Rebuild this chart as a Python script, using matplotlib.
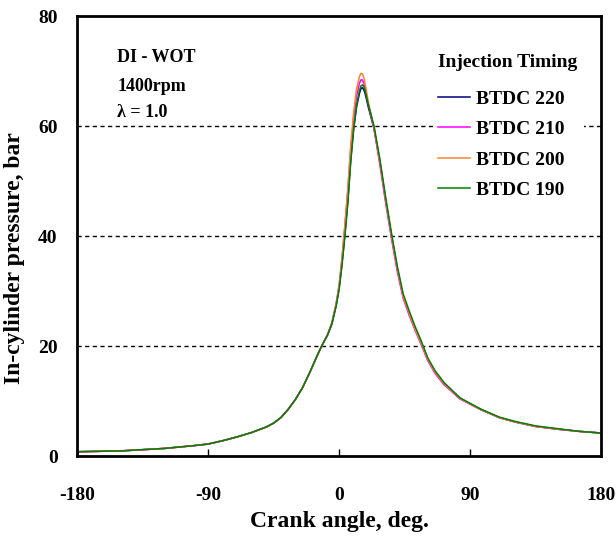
import numpy as np
import matplotlib
matplotlib.use("Agg")
import matplotlib.pyplot as plt

plt.rcParams['font.family'] = ['Liberation Serif', 'DejaVu Serif']
plt.rcParams['axes.unicode_minus'] = False

# crank angle grid, deg
angle = [-180, -150, -120, -100, -90, -80, -70, -60, -50, -45, -40, -35, -30, -25,
         -20, -15, -12, -8, -5, -2, 0, 2, 4, 6, 8, 10, 12, 14, 15, 16, 17, 18, 20,
         22, 24, 28, 32, 36, 40, 44, 48, 52, 56, 61, 66, 72, 83, 97, 110, 121, 135,
         150, 165, 180]

# in-cylinder pressure, bar
p_220 = [0.8, 0.95, 1.4, 1.9, 2.2, 2.8, 3.5, 4.3, 5.3, 6.0, 7.0, 8.5, 10.3, 12.5,
         15.3, 18.3, 20.0, 22.0, 24.0, 27.5, 30.5, 35.0, 40.5, 46.5, 54.0, 59.5, 63.5,
         66.0, 66.8, 67.0, 66.6, 65.8, 63.5, 61.5, 59.5, 53.5, 46.5, 40.0, 34.0, 29.0,
         26.0, 23.3, 20.8, 17.5, 15.2, 13.2, 10.5, 8.5, 7.0, 6.2, 5.4, 4.9, 4.5, 4.2]
p_210 = [0.8, 0.95, 1.4, 1.9, 2.2, 2.8, 3.5, 4.3, 5.3, 6.0, 7.0, 8.5, 10.3, 12.5,
         15.3, 18.3, 20.0, 22.0, 24.2, 27.8, 31.0, 36.0, 42.0, 48.5, 56.0, 61.5, 65.5,
         67.8, 68.4, 68.4, 67.8, 66.8, 64.0, 61.8, 59.5, 53.0, 46.0, 39.5, 33.5, 28.7,
         25.7, 23.0, 20.5, 17.3, 15.0, 13.0, 10.4, 8.5, 7.0, 6.2, 5.4, 4.9, 4.5, 4.2]
p_200 = [0.8, 0.95, 1.4, 1.9, 2.2, 2.8, 3.5, 4.3, 5.3, 6.0, 7.0, 8.5, 10.3, 12.5,
         15.3, 18.3, 20.0, 22.0, 24.2, 27.8, 31.0, 36.0, 42.0, 48.5, 56.5, 62.5, 66.8,
         69.0, 69.6, 69.5, 68.8, 67.5, 64.5, 62.0, 59.8, 53.5, 46.5, 40.0, 34.0, 29.0,
         26.0, 23.2, 20.7, 17.5, 15.2, 13.2, 10.5, 8.5, 7.0, 6.2, 5.4, 4.9, 4.5, 4.2]
p_190 = [0.8, 0.95, 1.4, 1.9, 2.2, 2.8, 3.5, 4.3, 5.3, 6.0, 7.0, 8.5, 10.3, 12.5,
         15.3, 18.3, 20.0, 22.0, 24.0, 27.3, 30.3, 34.8, 40.0, 46.0, 53.5, 59.5, 63.8,
         66.5, 67.3, 67.5, 67.2, 66.3, 64.0, 62.0, 60.0, 54.0, 47.0, 40.5, 34.5, 29.5,
         26.5, 23.7, 21.2, 17.8, 15.5, 13.4, 10.6, 8.6, 7.1, 6.3, 5.5, 5.0, 4.5, 4.2]

series = [("BTDC 220", p_220, "#000080"),
          ("BTDC 210", p_210, "#ff00ff"),
          ("BTDC 200", p_200, "#ff8033"),
          ("BTDC 190", p_190, "#008000")]

fig = plt.figure(figsize=(6.16, 5.36), dpi=100)
ax = fig.add_axes([0.125, 0.149, 0.851, 0.821])

for name, p, c in series:
    ax.plot(angle, p, color=c, lw=1.1, label=name)

for y in [20, 40, 60]:
    ax.axhline(y, color="black", lw=1.0, ls=(0, (3, 2.5)), zorder=0)

ax.set_xlim(-180, 180)
ax.set_ylim(0, 80)
ax.set_xticks([-180, -90, 0, 90, 180])
ax.set_yticks([0, 20, 40, 60, 80])
ax.tick_params(axis="x", direction="in", length=5, width=1, pad=22, labelsize=14)
ax.tick_params(axis="y", length=0, pad=14, labelsize=14)
for lab in ax.get_xticklabels() + ax.get_yticklabels():
    lab.set_fontweight("bold")
for s in ax.spines.values():
    s.set_linewidth(2)

ax.set_xlabel("Crank angle, deg.", fontsize=17, fontweight="bold")
ax.xaxis.set_label_coords(0.5, -0.125)
ax.set_ylabel("In-cylinder pressure, bar", fontsize=17, fontweight="bold")
ax.yaxis.set_label_coords(-0.1, 0.45)

ax.text(0.077, 0.907, "DI - WOT", transform=ax.transAxes, fontsize=13,
        fontweight="bold", va="center")
ax.text(0.077, 0.839, "1400rpm", transform=ax.transAxes, fontsize=13,
        fontweight="bold", va="center")
ax.text(0.077, 0.782, "λ = 1.0", transform=ax.transAxes, fontsize=13,
        fontweight="bold", va="center")

leg = ax.legend(title="Injection Timing", loc="upper right",
                bbox_to_anchor=(0.985, 0.95), frameon=True, fontsize=14,
                title_fontproperties={"size": 14, "weight": "bold"},
                handlelength=1.6, handletextpad=0.35, labelspacing=0.66,
                borderpad=0.3)
leg.get_frame().set_edgecolor("none")
leg.get_frame().set_facecolor("white")
leg.get_frame().set_alpha(1)
leg._legend_box.align = "left"
leg._legend_box.sep = 14
for t in leg.get_texts():
    t.set_fontweight("bold")

fig.savefig("out.png", dpi=100)
